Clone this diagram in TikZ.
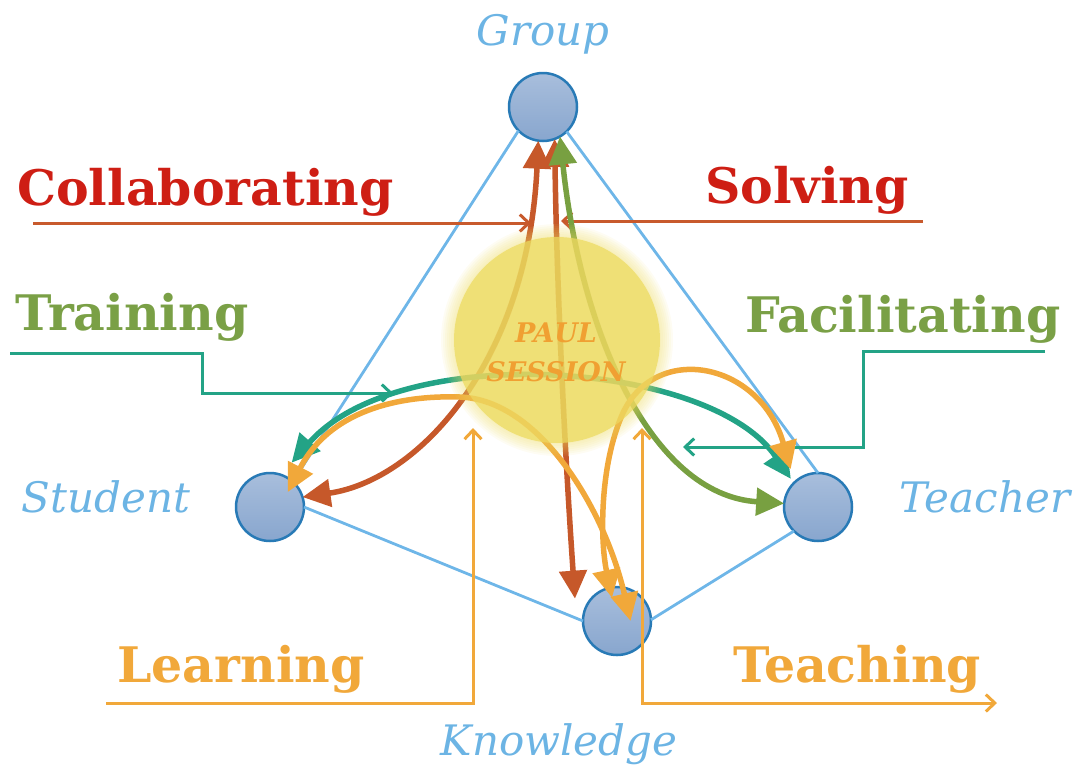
\documentclass[tikz,border=0pt]{standalone}
\usepackage{fontspec}
\setmainfont{DejaVu Serif}
\usetikzlibrary{arrows.meta,calc}
\definecolor{txtred}{RGB}{206,30,20}
\definecolor{lnred}{RGB}{200,90,45}
\definecolor{arrred}{RGB}{198,88,42}
\definecolor{txtgreen}{RGB}{122,160,70}
\definecolor{arrgreen}{RGB}{120,160,65}
\definecolor{tealc}{RGB}{35,163,134}
\definecolor{orng}{RGB}{241,168,58}
\definecolor{lblue}{RGB}{108,180,228}
\definecolor{triblue}{RGB}{110,182,232}
\definecolor{circtop}{RGB}{168,190,220}
\definecolor{circbot}{RGB}{136,166,206}
\definecolor{circb}{RGB}{40,122,182}
\definecolor{sunyel}{RGB}{237,219,98}
\definecolor{sessorange}{RGB}{240,160,50}
\begin{document}
\begin{tikzpicture}[x=1pt,y=-1pt,
  vertex/.style={circle, draw=circb, line width=2.5pt, top color=circtop, bottom color=circbot, minimum size=68pt, inner sep=0pt, outer sep=0pt},
  triline/.style={draw=triblue, line width=2.8pt},
  pointer/.style={line width=3pt, -{Straight Barb[length=9pt,width=17pt]}},
  flow/.style={line width=5.5pt, {Triangle[length=28pt,width=27pt]}-{Triangle[length=28pt,width=27pt]}},
  bigword/.style={font=\bfseries\fontsize{49}{58}\selectfont, anchor=base west, inner sep=0pt},
  nameword/.style={font=\itshape\fontsize{42}{50}\selectfont, text=lblue, anchor=base, inner sep=0pt}
]
\useasboundingbox (0,0) rectangle (1079,772);

% vertices
\node[vertex] (group) at (543,107) {};
\node[vertex] (student) at (270,507) {};
\node[vertex] (teacher) at (818,507) {};
\node[vertex] (knowledge) at (617,621) {};

% triangle lines
\draw[triline] (group.-136) -- (student.48);
\draw[triline] (group.-46) -- (teacher.90);
\draw[triline] (student.0) -- (knowledge.180);
\draw[triline] (knowledge.2) -- (teacher.-135);

% vertex names
\node[nameword] (lgroup) at (543,45) {Group};
\node[nameword] (lstudent) at (106,512) {Student};
\node[nameword] (lteacher) at (985,512) {Teacher};
\node[nameword] (lknow) at (559,755) {Knowledge};

% big words
\node[bigword, text=txtred] (wcollab) at (17,205) {Collaborating};
\node[bigword, text=txtred] (wsolve) at (705,203) {Solving};
\node[bigword, text=txtgreen] (wtrain) at (15,330) {Training};
\node[bigword, text=txtgreen] (wfacil) at (745,332) {Facilitating};
\node[bigword, text=orng] (wlearn) at (117,682) {Learning};
\node[bigword, text=orng] (wteach) at (733,682) {Teaching};

% callout pointers
\coordinate (cs) at (33,223); \coordinate (ce) at (531,223);
\draw[pointer, draw=lnred] (cs) -- (ce);
\coordinate (ss) at (923,221); \coordinate (se) at (561,221);
\draw[pointer, draw=lnred] (ss) -- (se);
\coordinate (ts) at (10,353); \coordinate (te) at (393,393);
\draw[pointer, draw=tealc] (ts) -- (202,353) -- (202,393) -- (te);
\coordinate (fs) at (1045,351); \coordinate (fe) at (683,447);
\draw[pointer, draw=tealc] (fs) -- (863,351) -- (863,447) -- (fe);
\coordinate (ls) at (106,703); \coordinate (le) at (473,428);
\draw[pointer, draw=orng] (ls) -- (473,703) -- (le);
\coordinate (tcs) at (642,428); \coordinate (tce) at (997,703);
\draw[pointer, draw=orng, {Straight Barb[length=9pt,width=17pt]}-{Straight Barb[length=9pt,width=17pt]}] (tcs) -- (642,703) -- (tce);

% flows
\draw[flow, draw=arrred] (group.-98) .. controls (528,360) and (420,480) .. (student.17);
\draw[flow, draw=arrred] (group.-70) .. controls (557,300) and (566,470) .. ($(knowledge.center)!1.4!(knowledge.152)$);
\draw[flow, draw=arrgreen] (group.-60) .. controls (580,330) and (650,495) .. (teacher.174);
\draw[flow, draw=tealc] ($(student.center)!1.45!(student.64)$) .. controls (400,340) and (710,360) .. ($(teacher.center)!1.15!(teacher.134)$);
\draw[flow, draw=orng] ($(student.center)!0.68!(student.40)$) .. controls (330,410) and (400,395) .. (460,397) .. controls (540,400) and (605,510) .. ($(knowledge.center)!0.4!(knowledge.0)$);
\draw[flow, draw=orng] ($(teacher.center)!1.37!(teacher.126)$) .. controls (760,360) and (650,340) .. (620,420) .. controls (600,470) and (600,540) .. ($(knowledge.center)!0.7!(knowledge.102)$);

% sun
\coordinate (sun) at (557,340);
\fill[sunyel, opacity=0.78] (sun) circle (103);
\foreach \r in {104,106,...,116} {\fill[sunyel, opacity=0.08] (sun) circle (\r);}
\node[font=\bfseries\itshape\fontsize{27}{39}\selectfont, text=sessorange, align=center] (session) at (556,352) {PAUL\\SESSION};
\end{tikzpicture}
\end{document}
